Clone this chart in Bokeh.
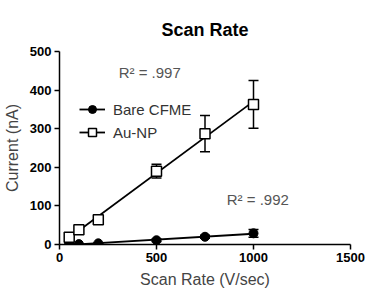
import numpy as np
from bokeh.plotting import figure
from bokeh.models import ColumnDataSource, Whisker, TeeHead, Legend, LegendItem, Range1d, FixedTicker
from bokeh.core.properties import value
from bokeh.embed import file_html
from bokeh.resources import INLINE

scan_rate = [50, 100, 200, 500, 750, 1000]
bare_current = [0, 1, 3, 11, 20, 29]
bare_err = [1, 1, 1, 3, 4, 10]
au_current = [19, 38, 64, 190, 287, 363]
au_err = [2, 2, 3, 18, 47, 62]

x_ticks = [0, 500, 1000, 1500]
y_ticks = [0, 100, 200, 300, 400, 500]

r2_labels = ["R\u00b2 = .997", "R\u00b2 = .992"]
r2_x = [305, 862]
r2_y = [445, 117]

FONT = "Liberation Sans"

p = figure(width=375, height=307, output_backend="svg", toolbar_location=None,
           x_range=Range1d(0, 1500), y_range=Range1d(0, 500),
           min_border_left=59, min_border_right=25, min_border_bottom=63, min_border_top=51)
p.title.text = "Scan Rate"
p.title.align = "center"
p.title.text_font = FONT
p.title.text_font_size = "18px"
p.title.text_font_style = "bold"
p.title.text_color = "black"
p.title.standoff = 24
p.grid.visible = False
p.outline_line_color = None

for ax in (p.xaxis[0], p.yaxis[0]):
    ax.axis_line_width = 1.5
    ax.axis_line_color = "black"
    ax.major_tick_line_width = 1.5
    ax.major_tick_line_color = "black"
    ax.major_tick_out = 5
    ax.major_tick_in = 0
    ax.minor_tick_line_color = None
    ax.major_label_text_font = FONT
    ax.major_label_text_font_size = "13px"
    ax.major_label_text_font_style = "bold"
    ax.major_label_text_color = "black"
    ax.axis_label_text_font = FONT
    ax.axis_label_text_font_size = "16px"
    ax.axis_label_text_font_style = "normal"
    ax.axis_label_text_color = "#444444"
    ax.major_label_standoff = 3
    ax.axis_label_standoff = 6

p.xaxis.ticker = FixedTicker(ticks=x_ticks)
p.yaxis.ticker = FixedTicker(ticks=y_ticks)
p.xaxis.axis_label = "Scan Rate (V/sec)"
p.yaxis.axis_label = "Current (nA)"

x = np.array(scan_rate, dtype=float)
fits = []
for ys in (bare_current, au_current):
    m, b = np.polyfit(x, np.array(ys, dtype=float), 1)
    fits.append([m * x[0] + b, m * x[-1] + b])

bare_line = p.line([x[0], x[-1]], fits[0], line_color="black", line_width=1.8)
au_line = p.line([x[0], x[-1]], fits[1], line_color="black", line_width=1.8)

src_b = ColumnDataSource(dict(x=scan_rate, y=bare_current,
                              lo=[v - e for v, e in zip(bare_current, bare_err)],
                              hi=[v + e for v, e in zip(bare_current, bare_err)]))
src_a = ColumnDataSource(dict(x=scan_rate, y=au_current,
                              lo=[v - e for v, e in zip(au_current, au_err)],
                              hi=[v + e for v, e in zip(au_current, au_err)]))

for src in (src_a, src_b):
    w = Whisker(source=src, base="x", lower="lo", upper="hi", line_color="black", line_width=1.5,
                upper_head=TeeHead(size=10, line_color="black", line_width=1.5),
                lower_head=TeeHead(size=10, line_color="black", line_width=1.5))
    p.add_layout(w)

bare_pts = p.scatter("x", "y", source=src_b, marker="circle", size=9,
                     fill_color="black", line_color="black")
au_pts = p.scatter("x", "y", source=src_a, marker="square", size=10,
                   fill_color="white", line_color="black", line_width=1.5)

legend = Legend(items=[LegendItem(label="Bare CFME", renderers=[bare_line, bare_pts]),
                       LegendItem(label="Au-NP", renderers=[au_line, au_pts])],
                location=(20, 102), padding=0, margin=0, spacing=3,
                glyph_width=26, glyph_height=20, label_standoff=8,
                label_text_font=FONT, label_text_font_size="15px", label_text_color="#333333",
                background_fill_alpha=0, border_line_color=None)
p.add_layout(legend)

p.text(r2_x, r2_y, text=r2_labels, text_font=value(FONT), text_font_size="15px",
       text_color="#555555", text_baseline="middle", text_align="left")

open("out.html", "w").write(file_html(p, INLINE))
